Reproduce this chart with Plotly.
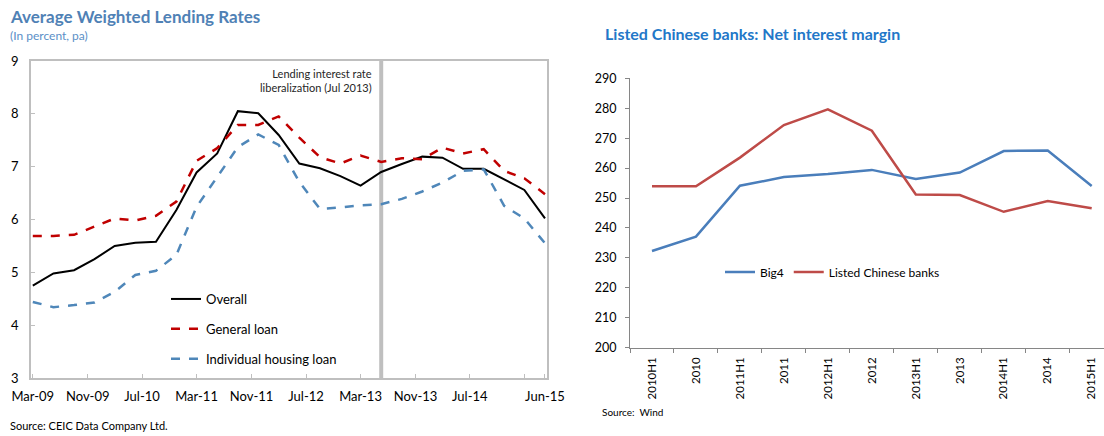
import plotly.graph_objects as go

# ---------- Left chart data (quarterly) ----------
quarters = ["2009-03-01", "2009-06-01", "2009-09-01", "2009-12-01",
            "2010-03-01", "2010-06-01", "2010-09-01", "2010-12-01",
            "2011-03-01", "2011-06-01", "2011-09-01", "2011-12-01",
            "2012-03-01", "2012-06-01", "2012-09-01", "2012-12-01",
            "2013-03-01", "2013-06-01", "2013-09-01", "2013-12-01",
            "2014-03-01", "2014-06-01", "2014-09-01", "2014-12-01",
            "2015-03-01", "2015-06-01"]
overall = [4.75, 4.98, 5.04, 5.25, 5.50, 5.56, 5.58, 6.18,
           6.89, 7.25, 8.05, 8.01, 7.60, 7.06, 6.97, 6.82,
           6.64, 6.90, 7.05, 7.19, 7.17, 6.96, 6.96, 6.76,
           6.56, 6.02]
general_loan = [5.69, 5.69, 5.71, 5.86, 6.02, 5.98, 6.07, 6.34,
                7.11, 7.35, 7.79, 7.79, 7.95, 7.55, 7.18, 7.06,
                7.21, 7.09, 7.16, 7.14, 7.36, 7.25, 7.33, 6.92,
                6.78, 6.48]
housing_loan = [4.44, 4.34, 4.38, 4.43, 4.63, 4.95, 5.03, 5.33,
                6.24, 6.81, 7.37, 7.61, 7.41, 6.71, 6.20, 6.23,
                6.27, 6.29, 6.39, 6.53, 6.70, 6.92, 6.95, 6.26,
                6.02, 5.55]
liberalization_date = "2013-06-01"
left_tickvals = ["2009-03-01", "2009-11-01", "2010-07-01", "2011-03-01",
                 "2011-11-01", "2012-07-01", "2013-03-01", "2013-11-01",
                 "2014-07-01", "2015-03-01", "2015-06-01"]
left_ticktext = ["Mar-09", "Nov-09", "Jul-10", "Mar-11", "Nov-11", "Jul-12",
                 "Mar-13", "Nov-13", "Jul-14", "", "Jun-15"]

# ---------- Right chart data ----------
periods = ["2010H1", "2010", "2011H1", "2011", "2012H1", "2012",
           "2013H1", "2013", "2014H1", "2014", "2015H1"]
big4 = [232.3, 237.1, 254.1, 257.0, 258.0, 259.4, 256.4, 258.5, 265.7, 265.9, 254.0]
listed_banks = [253.9, 253.9, 263.5, 274.4, 279.6, 272.5, 251.2, 251.0, 245.4, 249.0, 246.6]

FONT = "Lato"
W, H = 1104, 436

def px_x(p):
    return p / W

def px_y(p):
    return (H - p) / H

fig = go.Figure()

# vertical liberalization line (data coords)
fig.add_trace(go.Scatter(x=[liberalization_date, liberalization_date], y=[3, 9],
                         mode="lines", line=dict(color="#BFBFBF", width=4),
                         showlegend=False, hoverinfo="skip", xaxis="x", yaxis="y"))

fig.add_trace(go.Scatter(x=quarters, y=overall, name="Overall", mode="lines",
                         line=dict(color="#000000", width=2), legendgroup="a",
                         xaxis="x", yaxis="y", legend="legend"))
fig.add_trace(go.Scatter(x=quarters, y=general_loan, name="General loan", mode="lines",
                         line=dict(color="#C00000", width=2.5, dash="dash"), legendgroup="b",
                         xaxis="x", yaxis="y", legend="legend"))
fig.add_trace(go.Scatter(x=quarters, y=housing_loan, name="Individual housing loan", mode="lines",
                         line=dict(color="#4F87B9", width=2.5, dash="dash"), legendgroup="c",
                         xaxis="x", yaxis="y", legend="legend"))

fig.add_trace(go.Scatter(x=periods, y=big4, name="Big4", mode="lines",
                         line=dict(color="#4A7EBB", width=2.5),
                         xaxis="x2", yaxis="y2", legend="legend2"))
fig.add_trace(go.Scatter(x=periods, y=listed_banks, name="Listed Chinese banks", mode="lines",
                         line=dict(color="#BE4B48", width=2.5),
                         xaxis="x2", yaxis="y2", legend="legend2"))

axis_gray = "#BFBFBF"

fig.update_layout(
    width=W, height=H,
    margin=dict(l=0, r=0, t=0, b=0, autoexpand=False),
    paper_bgcolor="white", plot_bgcolor="white",
    font=dict(family=FONT, size=13, color="#000000"),
    xaxis=dict(domain=[px_x(31), px_x(547)], type="date", anchor="y",
               range=["2009-02-21", "2015-06-10"],
               tickvals=left_tickvals, ticktext=left_ticktext,
               ticks="inside", ticklen=4, tickcolor=axis_gray,
               showline=True, linecolor=axis_gray, linewidth=1.5, mirror=True,
               showgrid=False, zeroline=False, automargin=False,
               tickfont=dict(family=FONT, size=13, color="#000000"),
               ticklabelstandoff=6),
    yaxis=dict(domain=[px_y(378), px_y(61)], range=[3, 9], dtick=1, anchor="x",
               ticks="inside", ticklen=4, tickcolor=axis_gray,
               showline=True, linecolor=axis_gray, linewidth=1.5, mirror=True,
               showgrid=False, zeroline=False, automargin=False,
               tickfont=dict(family=FONT, size=13, color="#000000"),
               ticklabelstandoff=8),
    xaxis2=dict(domain=[px_x(630), 1.0], type="category", anchor="y2",
                range=[-0.5, 10.28],
                ticks="outside", ticklen=4, tickcolor="#868686",
                tickson="boundaries",
                showline=True, linecolor="#868686", linewidth=1,
                showgrid=False, zeroline=False, tickangle=-90, automargin=False,
                tickfont=dict(family=FONT, size=11.5, color="#000000"),
                ticklabelstandoff=4),
    yaxis2=dict(domain=[px_y(347.7), px_y(78.3)], range=[200, 290], dtick=10,
                anchor="x2",
                ticks="outside", ticklen=4, tickcolor="#868686",
                showline=True, linecolor="#868686", linewidth=1,
                showgrid=False, zeroline=False, automargin=False,
                tickfont=dict(family=FONT, size=12.5, color="#000000"),
                ticklabelstandoff=6),
    legend=dict(x=px_x(166), y=px_y(284), xanchor="left", yanchor="top",
                bgcolor="rgba(0,0,0,0)", itemwidth=30, tracegroupgap=10,
                font=dict(family=FONT, size=13, color="#000000")),
    legend2=dict(x=px_x(720), y=px_y(272), xanchor="left", yanchor="middle",
                 orientation="h", bgcolor="rgba(0,0,0,0)", itemwidth=30,
                 font=dict(family=FONT, size=12, color="#000000")),
    showlegend=True,
)

annotations = [
    dict(text="<b>Average Weighted Lending Rates</b>", x=px_x(8), y=px_y(16),
         xanchor="left", yanchor="middle",
         font=dict(family=FONT, size=17, color="#4F81B5")),
    dict(text="(In percent, pa)", x=px_x(8), y=px_y(35),
         xanchor="left", yanchor="middle",
         font=dict(family=FONT, size=12, color="#5B8FC7")),
    dict(text="Lending interest rate<br>liberalization (Jul 2013)", x=px_x(374), y=px_y(80),
         xanchor="right", yanchor="middle", align="right",
         font=dict(family=FONT, size=11, color="#262626")),
    dict(text="Source: CEIC Data Company Ltd.", x=px_x(8), y=px_y(425),
         xanchor="left", yanchor="middle",
         font=dict(family=FONT, size=11, color="#000000")),
    dict(text="<b>Listed Chinese banks: Net interest margin</b>", x=px_x(603), y=px_y(33),
         xanchor="left", yanchor="middle",
         font=dict(family=FONT, size=16, color="#2277C8")),
    dict(text="Source:  Wind", x=px_x(600), y=px_y(412),
         xanchor="left", yanchor="middle",
         font=dict(family=FONT, size=10, color="#000000")),
]
for a in annotations:
    a.update(xref="paper", yref="paper", showarrow=False)
fig.update_layout(annotations=annotations)

# remove the browser's default 8px body margin so the figure fills the window
fig.write_html("out.html", config={"displayModeBar": False},
               post_script="document.body.style.margin='0px';document.body.style.padding='0px';")
